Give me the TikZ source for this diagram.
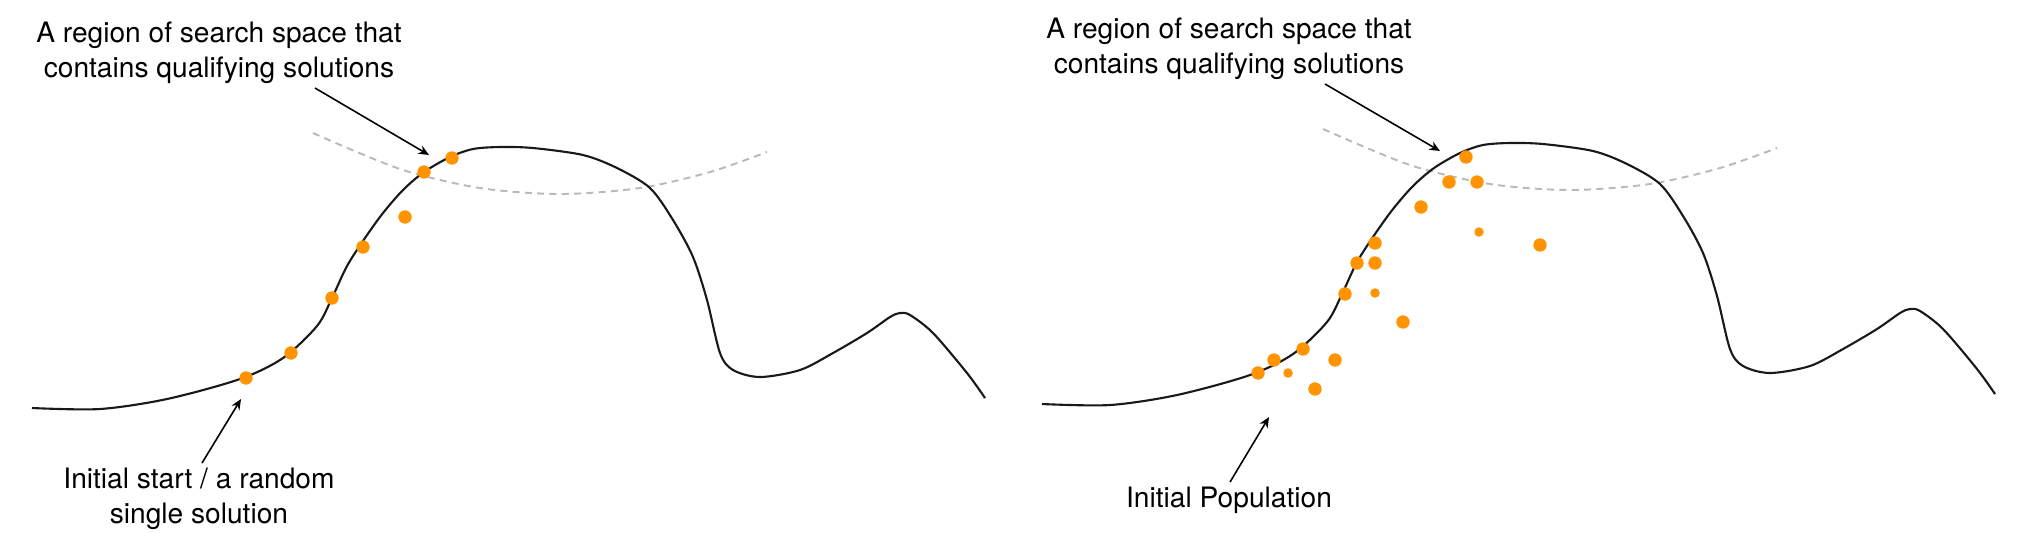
\documentclass[tikz,border=0pt]{standalone}
\usepackage{fontspec}
\setmainfont{TeX Gyre Heros}
\usetikzlibrary{arrows.meta}

\definecolor{dotorange}{RGB}{255,147,0}
\definecolor{arcgray}{RGB}{185,185,185}

\tikzset{
	hill/.style={line width=0.6pt, black!90},
	region/.style={arcgray, line width=0.55pt, dash pattern=on 2pt off 1.5pt},
	pointer/.style={-{Stealth[length=3pt,width=2.6pt]}, line width=0.45pt},
	note/.style={font=\fontsize{8}{9.7}\selectfont, align=center, anchor=base},
	sol/.style={fill=dotorange},
}

% the landscape and the dashed region, in pixel units
\newcommand{\hillpath}{plot[smooth,tension=0.5] coordinates {(32,408) (100,409) (167,399) (240,379) (283,358) (317,326) (332,298) (347,266) (365,238) (383,213) (403,190) (424,172) (450,157) (473,149) (500,147) (533,148) (583,155) (617,168) (650,188) (673,220) (693,257) (707,300) (720,353) (733,370) (760,377) (800,370) (833,353) (867,333) (890,317) (900,313) (910,315) (933,333) (967,373) (985,398)}}
\newcommand{\regionpath}{plot[smooth] coordinates {(313,133) (400,169) (480,188) (560,194) (640,188) (710,172) (767,152)}}

\begin{document}
\begin{tikzpicture}[x=0.01cm,y=-0.01cm]
	\useasboundingbox (0,0) rectangle (2031,532);
	
	% single solution
	\draw [region] \regionpath;
	\draw [hill] \hillpath;
	\foreach \x/\y in {246/378,291/353,332/298,363/247,405/217,424/172,452/158}
		\fill [sol] (\x,\y) circle [radius=1.9pt];
	
	\node [note] (regionL) at (219,77) {A region of search space that\\contains qualifying solutions};
	\node [note] (startL) at (199,523) {Initial start / a random\\single solution};
	
	\coordinate (fromL) at (315,88);
	\coordinate (toL) at (429,155);
	\coordinate (baseL) at (202,463);
	\coordinate (firstL) at (241,399);
	\draw [pointer] (fromL) -- (toL);
	\draw [pointer] (baseL) -- (firstL);
	
	% population
	\begin{scope}[shift={(1010,-4)}]
		\draw [region] \regionpath;
		\draw [hill] \hillpath;
	\end{scope}
	\foreach \x/\y in {1258/373,1274/360,1303/349,1315/389,1335/360,1345/294,1357/263,1375/263,1375/243,1403/322,1421/207,1449/182,1466/157,1477/182,1540/245}
		\fill [sol] (\x,\y) circle [radius=1.9pt];
	\foreach \x/\y in {1288/373,1375/293,1479/232}
		\fill [sol] (\x,\y) circle [radius=1.35pt];
	
	\node [note] (regionR) at (1229,73) {A region of search space that\\contains qualifying solutions};
	\node [note] (popR) at (1229,507) {Initial Population};
	
	\coordinate (fromR) at (1325,84);
	\coordinate (toR) at (1440,151);
	\coordinate (baseR) at (1230,482);
	\coordinate (firstR) at (1269,417);
	\draw [pointer] (fromR) -- (toR);
	\draw [pointer] (baseR) -- (firstR);
\end{tikzpicture}
\end{document}
